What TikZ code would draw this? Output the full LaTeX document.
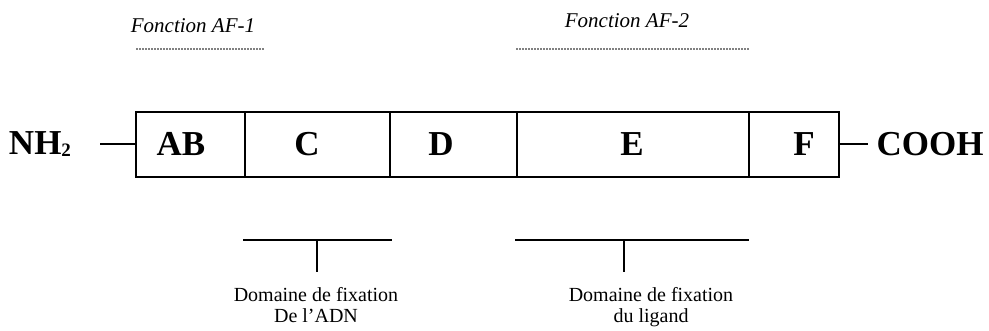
\documentclass[tikz,border=0pt]{standalone}
\usepackage{fontspec}
\setmainfont{Liberation Serif}
\usetikzlibrary{positioning}

\tikzset{
  segment/.style={draw, line width=1.2pt, minimum height=65pt, inner sep=0pt, outer sep=0pt},
  seglabel/.style={font=\fontsize{35}{35}\selectfont\bfseries, inner sep=0pt, anchor=base},
  fonction/.style={font=\fontsize{21}{21}\selectfont\itshape, inner sep=0pt, anchor=base},
  domaine/.style={font=\fontsize{20}{21}\selectfont, align=center, inner sep=0pt, anchor=north},
  dotline/.style={line width=1.8pt, line cap=round, dash pattern=on 0pt off 3pt},
  bracket/.style={line width=1.3pt}
}

\begin{document}
\begin{tikzpicture}[x=1pt, y=-1pt]
  \useasboundingbox (0,0) rectangle (989,330);

  % functions
  \node[fonction] (af1) at (193,32) {Fonction AF-1};
  \node[fonction] (af2) at (627,27) {Fonction AF-2};
  \draw[dotline] (137,49) -- (263,49);
  \draw[dotline] (517,49) -- (749,49);

  % receptor segments
  \node[segment, anchor=north west, minimum width=109pt] (ab) at (136,112) {};
  \node[segment, minimum width=145pt, right=0pt of ab] (c) {};
  \node[segment, minimum width=127pt, right=0pt of c] (d) {};
  \node[segment, minimum width=232pt, right=0pt of d] (e) {};
  \node[segment, minimum width=90pt, right=0pt of e] (f) {};

  \node[seglabel] (lab) at (181,155) {AB};
  \node[seglabel] (lc) at (307,155) {C};
  \node[seglabel] (ld) at (441,155) {D};
  \node[seglabel] (le) at (632,155) {E};
  \node[seglabel] (lf) at (804,155) {F};

  % ends
  \node[seglabel] (nh) at (40,154) {NH\raisebox{-2pt}{\fontsize{19}{19}\selectfont 2}};
  \node[seglabel] (cooh) at (930,155) {COOH};
  \coordinate (nend) at (100,144);
  \coordinate (cend) at (868,144);
  \draw[line width=1.1pt] (nend) -- (ab.west |- nend);
  \draw[line width=1.1pt] (f.east |- cend) -- (cend);

  % binding domains
  \draw[bracket] (243,240) -- (392,240);
  \draw[bracket] (317,240) -- (317,272);
  \node[domaine] (adn) at (316,287) {Domaine de fixation\\De l'ADN};
  \draw[bracket] (515,240) -- (749,240);
  \draw[bracket] (624,240) -- (624,272);
  \node[domaine] (ligand) at (651,287) {Domaine de fixation\\du ligand};
\end{tikzpicture}
\end{document}
